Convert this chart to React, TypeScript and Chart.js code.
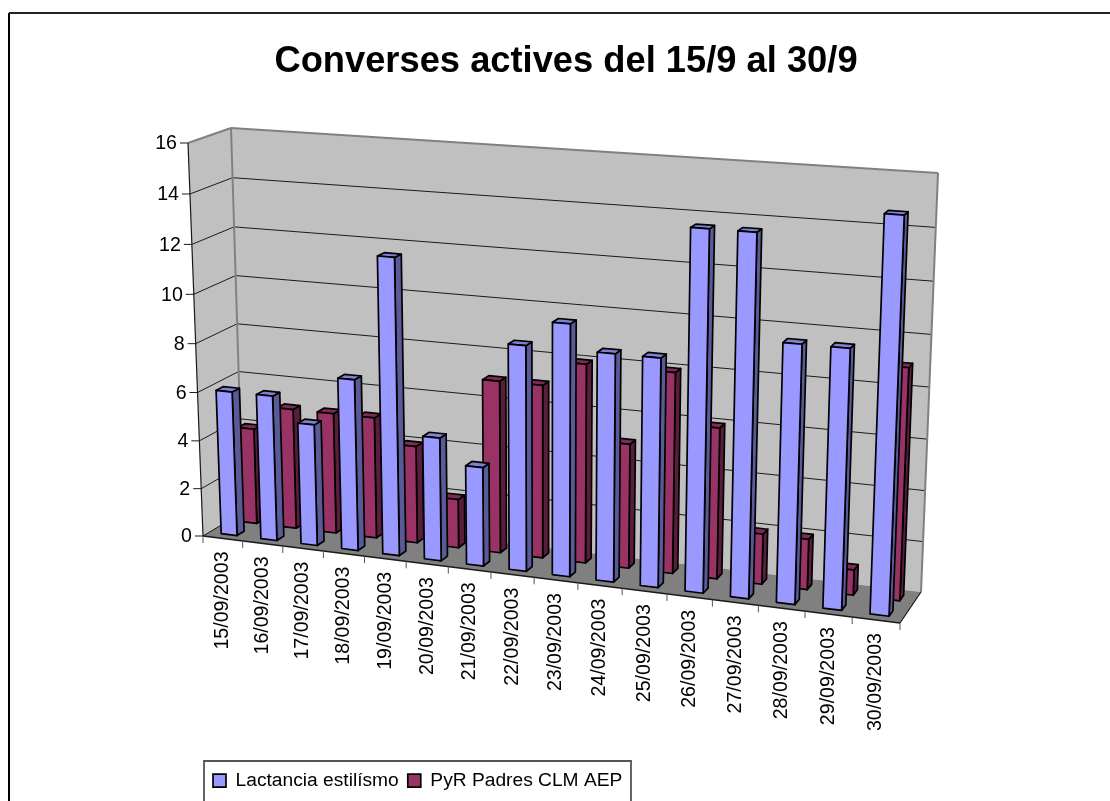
import React, { useEffect, useRef } from "react";
import { Chart, registerables } from "chart.js";

Chart.register(...registerables);

const titleText = "Converses actives del 15/9 al 30/9";
const categories = [
  "15/09/2003", "16/09/2003", "17/09/2003", "18/09/2003", "19/09/2003", "20/09/2003", "21/09/2003", "22/09/2003",
  "23/09/2003", "24/09/2003", "25/09/2003", "26/09/2003", "27/09/2003", "28/09/2003", "29/09/2003", "30/09/2003",
];
const lactancia = [6, 6, 5, 7, 12, 5, 4, 9, 10, 9, 9, 14, 14, 10, 10, 15];
const pyrPadres = [4, 5, 5, 5, 4, 2, 7, 7, 8, 5, 8, 6, 2, 2, 1, 9];

const FONT = '"Liberation Sans", Arial, sans-serif';

type P = [number, number];
// Camera of the 3D box: the corners of its front and back planes (bl, br, tr, tl).
const frontPlane: P[] = [[203, 536], [900, 623], [917, 191], [188, 143]];
const backPlane: P[] = [[243, 512], [921, 592], [938, 173], [231, 128]];
const SERIES_DEPTH: [number, number][] = [[0.16, 0.34], [0.66, 0.84]];
const FACES = [
  { front: "#9999FF", side: "#5A5A99", top: "#7F7FD4" },
  { front: "#993366", side: "#5A1E3C", top: "#7F2A55" },
];

function homography(q: P[]) {
  const [[x0, y0], [x1, y1], [x2, y2], [x3, y3]] = q;
  const dx1 = x1 - x2, dx2 = x3 - x2, dx3 = x0 - x1 + x2 - x3;
  const dy1 = y1 - y2, dy2 = y3 - y2, dy3 = y0 - y1 + y2 - y3;
  const den = dx1 * dy2 - dx2 * dy1;
  const g = (dx3 * dy2 - dx2 * dy3) / den;
  const h = (dx1 * dy3 - dx3 * dy1) / den;
  const a = x1 - x0 + g * x1, b = x3 - x0 + h * x3;
  const d = y1 - y0 + g * y1, e = y3 - y0 + h * y3;
  return (u: number, v: number): P => {
    const w = g * u + h * v + 1;
    return [(a * u + b * v + x0) / w, (d * u + e * v + y0) / w];
  };
}
const frontMap = homography(frontPlane);
const backMap = homography(backPlane);
const project = (u: number, v: number, depth: number): P => {
  const f = frontMap(u, v), b = backMap(u, v);
  return [f[0] + (b[0] - f[0]) * depth, f[1] + (b[1] - f[1]) * depth];
};

function poly(ctx: CanvasRenderingContext2D, pts: P[], fill?: string, stroke?: string, lw = 1) {
  ctx.beginPath();
  pts.forEach((p, i) => (i ? ctx.lineTo(p[0], p[1]) : ctx.moveTo(p[0], p[1])));
  ctx.closePath();
  if (fill) { ctx.fillStyle = fill; ctx.fill(); }
  if (stroke) { ctx.strokeStyle = stroke; ctx.lineWidth = lw; ctx.lineJoin = "round"; ctx.stroke(); }
}
function line(ctx: CanvasRenderingContext2D, a: P, b: P, color: string, lw: number) {
  ctx.beginPath();
  ctx.moveTo(a[0], a[1]);
  ctx.lineTo(b[0], b[1]);
  ctx.strokeStyle = color;
  ctx.lineWidth = lw;
  ctx.stroke();
}

const scene3d = {
  id: "scene3d",
  beforeDraw(chart: any) {
    const { ctx, width, height } = chart;
    ctx.save();
    ctx.fillStyle = "#FFFFFF";
    ctx.fillRect(0, 0, width, height);
    line(ctx, [9, height], [9, 13], "#000000", 2);
    line(ctx, [9, 13], [width, 13], "#222222", 2);
    ctx.strokeStyle = "#555555";
    ctx.lineWidth = 1.8;
    ctx.beginPath();
    ctx.moveTo(204, height + 2);
    ctx.lineTo(204, 761);
    ctx.lineTo(631, 761);
    ctx.lineTo(631, height + 2);
    ctx.stroke();
    ctx.restore();
  },
  afterLayout(chart: any) {
    const lg = chart.legend;
    const w = lg.right - lg.left, h = lg.bottom - lg.top;
    lg.left = 204; lg.right = 204 + w; lg.top = 762; lg.bottom = 762 + h;
  },
  beforeDatasetsDraw(chart: any) {
    const { ctx, chartArea: ca } = chart;
    const xs = chart.scales.x, ys = chart.scales.y;
    const toU = (px: number) => (px - ca.left) / (ca.right - ca.left);
    const toV = (py: number) => (ca.bottom - py) / (ca.bottom - ca.top);
    ctx.save();

    // Walls and floor
    const B = (u: number, v: number) => project(u, v, 1);
    const F = (u: number, v: number) => project(u, v, 0);
    poly(ctx, [F(0, 0), F(0, 1), B(0, 1), B(0, 0)], "#C0C0C0");
    poly(ctx, [B(0, 0), B(0, 1), B(1, 1), B(1, 0)], "#C0C0C0");
    poly(ctx, [F(0, 0), B(0, 0), B(1, 0), F(1, 0)], "#808080");

    // Gridlines and value ticks
    ctx.font = `19.6px ${FONT}`;
    ctx.fillStyle = "#000000";
    ys.ticks.forEach((t: any) => {
      const v = toV(ys.getPixelForValue(t.value));
      const f = F(0, v);
      if (t.value > 0 && t.value < 16) {
        line(ctx, f, B(0, v), "#1A1A1A", 1);
        line(ctx, B(0, v), B(1, v), "#1A1A1A", 1);
      }
      line(ctx, [f[0] - 8, f[1]], f, "#1A1A1A", 1);
      ctx.textAlign = "right";
      ctx.textBaseline = "middle";
      ctx.fillStyle = "#000000";
      ctx.fillText(String(t.label), f[0] - 11, f[1] + 1);
    });
    line(ctx, F(0, 1), B(0, 1), "#808080", 2);
    line(ctx, B(0, 1), B(1, 1), "#808080", 2);
    line(ctx, B(0, 1), B(0, 0), "#808080", 2);
    line(ctx, B(1, 1), B(1, 0), "#808080", 2);
    line(ctx, F(0, 1), F(0, 0), "#1A1A1A", 1.2);
    line(ctx, F(0, 0), B(0, 0), "#1A1A1A", 1);
    line(ctx, F(1, 0), B(1, 0), "#1A1A1A", 1.2);
    line(ctx, F(0, 0), F(1, 0), "#1A1A1A", 1.4);

    // Category ticks and labels
    const labels: string[] = xs.getLabels();
    for (let i = 0; i <= labels.length; i++) {
      const p = F(i / labels.length, 0);
      line(ctx, p, [p[0], p[1] + 7], "#555555", 1);
    }
    labels.forEach((label, i) => {
      const p = F(toU(xs.getPixelForValue(i)), 0);
      ctx.save();
      ctx.translate(p[0], p[1] + 13);
      ctx.rotate(-Math.PI / 2);
      ctx.textAlign = "right";
      ctx.textBaseline = "middle";
      ctx.fillStyle = "#000000";
      ctx.fillText(label, 0, 0);
      ctx.restore();
    });

    // Bars: rear row first, then the front row, each taken from the bar elements
    [1, 0].forEach((ds) => {
      const [d0, d1] = SERIES_DEPTH[ds];
      const c = FACES[ds];
      chart.getDatasetMeta(ds).data.forEach((el: any) => {
        const p = el.getProps(["x", "y", "base", "width"], true);
        const u0 = toU(p.x - p.width / 2), u1 = toU(p.x + p.width / 2);
        const v0 = toV(p.base), v1 = toV(p.y);
        poly(ctx, [project(u1, v0, d0), project(u1, v1, d0), project(u1, v1, d1), project(u1, v0, d1)], c.side, "#000000", 1.7);
        poly(ctx, [project(u0, v1, d0), project(u1, v1, d0), project(u1, v1, d1), project(u0, v1, d1)], c.top, "#000000", 1.7);
        poly(ctx, [project(u0, v0, d0), project(u1, v0, d0), project(u1, v1, d0), project(u0, v1, d0)], c.front, "#000000", 1.7);
      });
    });
    ctx.restore();
    return false;
  },
};

export default function App() {
  const ref = useRef<HTMLCanvasElement | null>(null);
  useEffect(() => {
    const chart = new Chart(ref.current as HTMLCanvasElement, {
      type: "bar",
      data: {
        labels: categories,
        datasets: [
          { label: "Lactancia estilísmo", data: lactancia, backgroundColor: "#9999FF", borderColor: "#000000", borderWidth: 1.7 },
          { label: "PyR Padres CLM AEP", data: pyrPadres, backgroundColor: "#993366", borderColor: "#000000", borderWidth: 1.7 },
        ],
      },
      options: {
        responsive: false,
        animation: false,
        events: [],
        layout: { padding: { left: 22, right: 0, top: 0, bottom: 0 } },
        datasets: { bar: { grouped: false, barPercentage: 0.4, categoryPercentage: 1 } },
        plugins: {
          title: {
            display: true,
            text: titleText,
            color: "#000000",
            font: { family: FONT, size: 36.3, weight: "bold" },
            padding: { top: 40, bottom: 30 },
          },
          legend: {
            display: true,
            position: "bottom",
            align: "start",
            labels: { color: "#000000", boxWidth: 13, boxHeight: 13, padding: 9, font: { family: FONT, size: 19.2 } },
          },
          tooltip: { enabled: false },
        },
        scales: {
          x: { type: "category", grid: { display: false }, border: { display: false }, ticks: { display: false } },
          y: { min: 0, max: 16, grid: { display: false }, border: { display: false }, ticks: { display: false, stepSize: 2 } },
        },
      } as any,
      plugins: [scene3d],
    });
    return () => chart.destroy();
  }, []);
  return (
    <div style={{ position: "fixed", left: 0, top: 0, width: 1110, height: 801, background: "#FFFFFF" }}>
      <canvas ref={ref} width={1110} height={801} style={{ display: "block" }} />
    </div>
  );
}
